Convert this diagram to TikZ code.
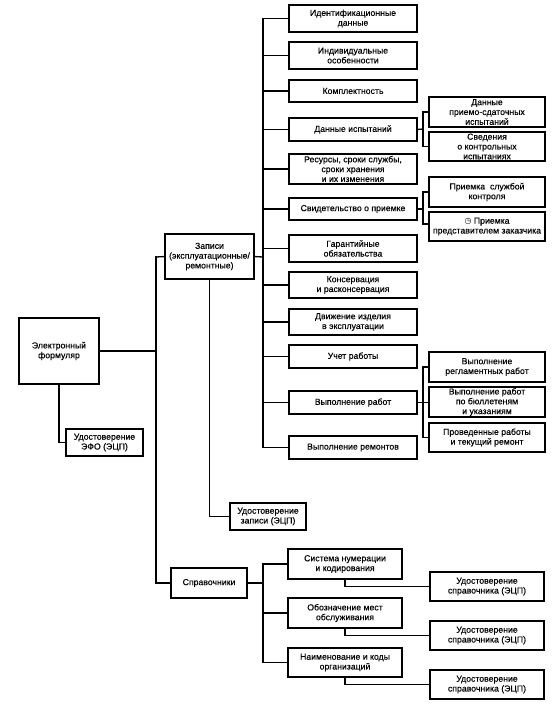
\documentclass[tikz,border=0pt]{standalone}
\usepackage{fontspec}
\setmainfont{Liberation Sans}[FakeBold=0.25]
\newfontfamily\symfont{DejaVu Sans}
\newcommand{\bx}[6]{\node[boxn,minimum width={(#4-#2)*1pt},minimum height={(#5-#3)*1pt}] (#1) at ({(#2+#4)/2},{(#3+#5)/2}) {#6};}
\tikzset{
  boxn/.style={draw=black,line width=1.4pt,fill=white,align=center,inner sep=0pt,outer sep=0pt,
    font=\fontsize{8.7}{9.8}\selectfont,text=black},
  conn/.style={draw=black,line width=1.3pt,line cap=rect}
}
\begin{document}
\begin{tikzpicture}[x=1pt,y=-1pt]
\useasboundingbox (0,0) rectangle (553,704);
\coordinate (busA) at (156,351);
\coordinate (busAt) at (156,257);
\coordinate (busAb) at (156,583);
\coordinate (busB) at (263,257);
\coordinate (busBt) at (263,18.5);
\coordinate (busBb) at (263,447.5);
\coordinate (busC) at (423,129);
\coordinate (busCt) at (423,112);
\coordinate (busCb) at (423,146.5);
\coordinate (busD) at (423,209);
\coordinate (busDt) at (423,192);
\coordinate (busDb) at (423,224);
\coordinate (busE) at (423,402.5);
\coordinate (busEt) at (423,367);
\coordinate (busEb) at (423,437.5);
\coordinate (busF) at (263,583);
\coordinate (busFt) at (263,564);
\coordinate (busFb) at (263,662.5);
% level 1
\bx{efo}{19}{318}{99}{384}{Электронный\\формуляр}
\bx{efosig}{66}{429}{143}{456}{Удостоверение\\ЭФО (ЭЦП)}
\bx{rec}{165}{234}{254}{279}{Записи\\(эксплуатационные/\\ремонтные)}
\bx{recsig}{230}{503}{306}{530}{Удостоверение\\записи (ЭЦП)}
\bx{ref}{171}{568}{247}{598}{Справочники}
% level 2
\bx{a}{289}{5}{417}{32}{Идентификационные\\данные}
\bx{b}{289}{42}{417}{69}{Индивидуальные\\особенности}
\bx{c}{289}{80}{417}{102}{Комплектность}
\bx{d}{289}{118}{417}{141}{Данные испытаний}
\bx{e}{289}{154}{417}{184}{Ресурсы, сроки службы,\\сроки хранения\\и их изменения}
\bx{f}{289}{198}{417}{220}{Свидетельство о приемке}
\bx{g}{289}{235}{417}{262}{Гарантийные\\обязательства}
\bx{h}{289}{272}{417}{298}{Консервация\\и расконсервация}
\bx{i}{289}{309}{417}{335}{Движение изделия\\в эксплуатации}
\bx{j}{289}{345}{417}{368}{Учет работы}
\bx{k}{289}{391}{417}{414}{Выполнение работ}
\bx{l}{289}{436}{417}{459}{Выполнение ремонтов}
% level 3
\bx{d1}{429}{97}{545}{127}{Данные\\приемо-сдаточных\\испытаний}
\bx{d2}{429}{132}{545}{161}{Сведения\\о контрольных\\испытаниях}
\bx{f1}{429}{177}{545}{207}{Приемка\ \ службой\\контроля}
\bx{f2}{429}{212}{545}{241}{{\symfont\fontsize{8}{9.8}\selectfont ◷} Приемка\\представителем заказчика}
\bx{k1}{429}{352}{545}{382}{Выполнение\\регламентных работ}
\bx{k2}{429}{387}{545}{417}{Выполнение работ\\по бюллетеням\\и указаниям}
\bx{k3}{429}{423}{545}{452}{Проведенные работы\\и текущий ремонт}
% reference
\bx{r1}{288}{549}{402}{579}{Система нумерации\\и кодирования}
\bx{r2}{288}{598}{402}{628}{Обозначение мест\\обслуживания}
\bx{r3}{288}{648}{402}{677}{Наименование и коды\\организаций}
\bx{s1}{430}{572}{544}{601}{Удостоверение\\справочника (ЭЦП)}
\bx{s2}{430}{621}{544}{650}{Удостоверение\\справочника (ЭЦП)}
\bx{s3}{430}{670}{544}{699}{Удостоверение\\справочника (ЭЦП)}
% connectors
\draw[conn] (efo.east) -- (busA);
\draw[conn] (busAt) -- (busAb);
\draw[conn] (efo.south) |- (efosig.west);
\draw[conn] (rec.west) -- (busAt);
\draw[conn] (ref.west) -- (busAb);
\draw[conn] (rec.south) |- (recsig.west);
\draw[conn] (rec.east) -- (busB);
\draw[conn] (busBt) -- (busBb);
\foreach \n in {a,b,c,d,e,f,g,h,i,j,k,l} \draw[conn] (\n.west) -- (\n.west -| busB);
\draw[conn] (d.east) -- (busC);
\draw[conn] (busCt) -- (busCb);
\draw[conn] (busCt) -- (busCt -| d1.west);
\draw[conn] (busCb) -- (busCb -| d2.west);
\draw[conn] (f.east) -- (busD);
\draw[conn] (busDt) -- (busDb);
\draw[conn] (busDt) -- (busDt -| f1.west);
\draw[conn] (busDb) -- (busDb -| f2.west);
\draw[conn] (k.east) -- (busE);
\draw[conn] (busEt) -- (busEb);
\draw[conn] (busEt) -- (busEt -| k1.west);
\draw[conn] (busE) -- (busE -| k2.west);
\draw[conn] (busEb) -- (busEb -| k3.west);
\draw[conn] (ref.east) -- (busF);
\draw[conn] (busFt) -- (busFb);
\draw[conn] (busFt) -- (busFt -| r1.west);
\draw[conn] (r2.west) -- (r2.west -| busF);
\draw[conn] (busFb) -- (busFb -| r3.west);
\draw[conn] (r1.south) |- (s1.west);
\draw[conn] (r2.south) |- (s2.west);
\draw[conn] (r3.south) |- (s3.west);
\end{tikzpicture}
\end{document}
